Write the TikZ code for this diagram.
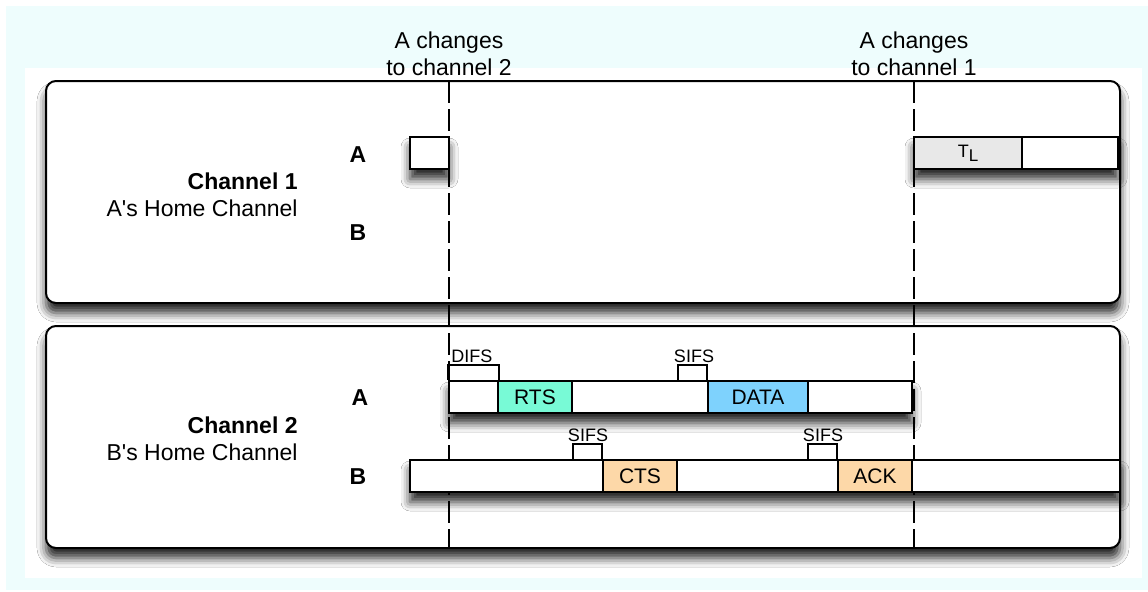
\documentclass[tikz,border=0pt]{standalone}
\usepackage{fontspec}
\setmainfont{Liberation Sans}
\usetikzlibrary{shadows.blur}

\definecolor{bgcyan}{HTML}{EEFDFD}
\definecolor{rtsfill}{HTML}{78FAD6}
\definecolor{datafill}{HTML}{7ED2FD}
\definecolor{ctsfill}{HTML}{FDD8A8}
\definecolor{tlfill}{HTML}{E8E8E8}

\newcommand\dgmain{\fontsize{11.5}{13.75}\selectfont}
\newcommand\dgseg{\fontsize{10.5}{12}\selectfont}
\newcommand\dgsmall{\fontsize{9}{10}\selectfont}

\begin{document}
\begin{tikzpicture}[x=0.5pt,y=-0.5pt,
  softshadow/.style={blur shadow={shadow xshift=0pt, shadow yshift=-5pt,
      shadow blur radius=4.5pt, shadow opacity=85}},
  chbox/.style={draw, line width=1pt, rounded corners=5pt, fill=white,
      minimum width=537pt, minimum height=111pt, inner sep=0pt, softshadow},
  barbg/.style={draw, line width=1pt, fill=white, minimum height=16pt,
      inner sep=0pt, softshadow},
  seg/.style={draw, line width=1pt, fill=white, minimum height=16pt,
      inner sep=0pt, font=\dgseg},
  switchline/.style={line width=1pt, dash pattern=on 11pt off 3pt},
  bracket/.style={line width=0.8pt},
  note/.style={font=\dgmain, align=center, inner sep=0pt},
  chname/.style={font=\dgmain, align=right, anchor=east, inner sep=0pt},
  station/.style={font=\dgmain\bfseries, inner sep=0pt},
  ifs/.style={font=\dgsmall, inner sep=0pt}]

\useasboundingbox (0,0) rectangle (1148,591);

% backdrop
\fill[bgcyan] (6,6) rectangle (1148,590);
\fill[white] (25,68) rectangle (1142,578);

% channel panels
\node[chbox] (ch1) at (583,192) {};
\node[chbox] (ch2) at (583,437) {};

% channel switching instants
\coordinate (s1top) at (449,81);
\coordinate (s1bot) at (449,548);
\coordinate (s2top) at (914,81);
\coordinate (s2bot) at (914,548);
\draw[switchline] (s1top) -- (s1bot);
\draw[switchline] (s2top) -- (s2bot);

\node[note] (chg2) at (449,54) {A changes\\to channel 2};
\node[note] (chg1) at (914,54) {A changes\\to channel 1};

% channel names and stations
\node[chname] (n1) at (298,195) {\textbf{Channel 1}\\A\textquotesingle s Home Channel};
\node[chname] (n2) at (298,439) {\textbf{Channel 2}\\B\textquotesingle s Home Channel};
\node[station] (st1a) at (358,155) {A};
\node[station] (st1b) at (358,233) {B};
\node[station] (st2a) at (360,398) {A};
\node[station] (st2b) at (358,477) {B};

% channel 1, station A
\node[barbg, minimum width=19.5pt] (a1box) at (429.5,153) {};
\node[barbg, minimum width=102pt] (a1bar) at (1016,153) {};
\node[seg, fill=tlfill, minimum width=54pt] (tl) at (968,153)
  {\fontsize{9}{10}\selectfont T\raisebox{-2.2pt}{\fontsize{8.5}{9}\selectfont L}};
\node[seg, minimum width=48pt] (a1rest) at (1070,153) {};

% channel 2, station A
\node[barbg, minimum width=231.5pt] (a2bar) at (680.5,397) {};
\node[seg, minimum width=24.5pt] (difsgap) at (473.5,397) {};
\node[seg, fill=rtsfill, minimum width=37pt] (rts) at (535,397) {RTS};
\node[seg, minimum width=68pt] (a2idle) at (640,397) {};
\node[seg, fill=datafill, minimum width=50pt] (data) at (758,397) {DATA};
\node[seg, minimum width=52pt] (a2rest) at (860,397) {};

% channel 2, station B
\node[barbg, minimum width=355pt] (b2bar) at (765,476) {};
\node[seg, minimum width=96.5pt] (b2idle) at (506.5,476) {};
\node[seg, fill=ctsfill, minimum width=37pt] (cts) at (640,476) {CTS};
\node[seg, minimum width=80.5pt] (b2wait) at (757.5,476) {};
\node[seg, fill=ctsfill, minimum width=37pt] (ack) at (875,476) {ACK};
\node[seg, minimum width=104pt] (b2rest) at (1016,476) {};

% interframe spaces
\draw[bracket] (difsgap.north west) -- ++(0,-15) -| (difsgap.north east);
\draw[bracket] (data.north west) -- ++(0,-15) -- ++(-29,0) -- ++(0,15);
\draw[bracket] (cts.north west) -- ++(0,-15) -- ++(-29,0) -- ++(0,15);
\draw[bracket] (ack.north west) -- ++(0,-15) -- ++(-29,0) -- ++(0,15);

\node[ifs, anchor=west] (difs) at (451,356) {DIFS};
\node[ifs] (sifs1) at (694,356) {SIFS};
\node[ifs] (sifs2) at (588,435) {SIFS};
\node[ifs] (sifs3) at (823,435) {SIFS};

\end{tikzpicture}
\end{document}
